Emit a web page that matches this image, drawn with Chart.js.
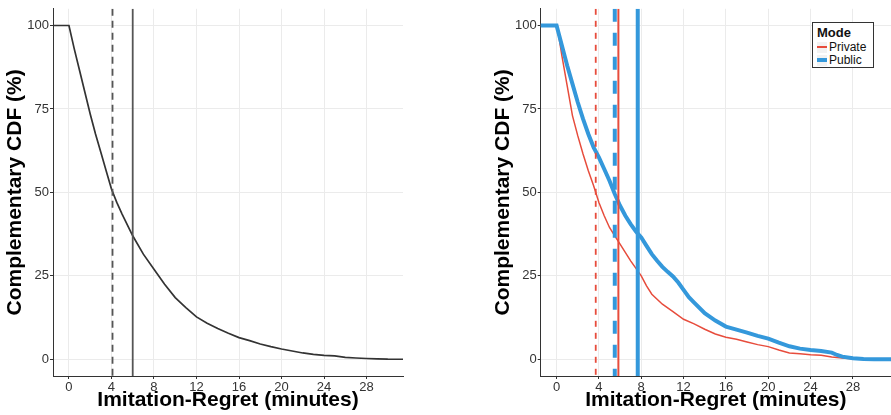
<!DOCTYPE html>
<html>
<head>
<meta charset="utf-8">
<script src="https://cdn.jsdelivr.net/npm/chart.js@4.4.0/dist/chart.umd.min.js"></script>
<style>
  body { margin: 0; background: #fff; width: 891px; height: 415px; overflow: hidden; position: relative;
         font-family: "Liberation Sans", Arial, sans-serif; }
  .panel { position: absolute; top: 0; height: 415px; }
  #leftBox { left: 0; width: 445px; }
  #rightBox { left: 445px; width: 446px; }
  #legend { position: absolute; left: 812px; top: 22px; width: 62px; height: 46px; box-sizing: border-box;
            border: 1px solid #333; background: #fff; color: #111; padding: 2px 0 0 4px; }
  #legend .title { font-weight: bold; font-size: 13px; line-height: 15px; }
  #legend .row { display: flex; align-items: center; font-size: 12px; line-height: 12px; height: 12px; margin-top: 1px; }
  #legend .key { width: 10px; height: 11px; background: #f2f2f2; position: relative; margin-right: 2px; }
  #legend .key span { position: absolute; left: 0; right: 0; top: 50%; }
</style>
</head>
<body>
<div class="panel" id="leftBox"><canvas id="leftChart" width="445" height="415"></canvas></div>
<div class="panel" id="rightBox"><canvas id="rightChart" width="446" height="415"></canvas></div>
<div id="legend">
  <div class="title">Mode</div>
  <div class="row"><div class="key"><span style="height:2px;margin-top:-1px;background:#E74C3C"></span></div>Private</div>
  <div class="row"><div class="key"><span style="height:4px;margin-top:-2px;background:#3498DB"></span></div>Public</div>
</div>
<script>
// tick labels
const xTicks = [0, 4, 8, 12, 16, 20, 24, 28];
const yTicks = [0, 25, 50, 75, 100];

// all players (left panel)
const allX = [-2, 0, 0.5, 1, 1.5, 2, 2.5, 3, 3.5, 4, 4.5, 5, 6, 7, 8, 9, 10, 11, 12, 13, 14, 15, 16, 17, 18, 19, 20, 21, 22, 23, 24, 25, 26, 27, 28, 29, 30, 32];
const allY = [100, 100, 93, 86.5, 80, 73.5, 67.5, 62, 56.5, 51, 47, 43.5, 37, 31.5, 27, 22.5, 18.5, 15.5, 12.7, 10.8, 9.2, 7.8, 6.5, 5.6, 4.6, 3.8, 3.1, 2.5, 1.9, 1.5, 1.2, 1.0, 0.6, 0.4, 0.25, 0.15, 0.05, 0];
const allMedian = 4.1;
const allMean = 6.0;

// private mode (right panel)
const privX = [-2, 0, 0.25, 0.5, 1, 1.5, 2, 2.5, 3, 3.5, 4, 4.5, 5, 5.5, 6, 7, 8, 8.5, 9, 10, 11, 12, 13, 14, 15, 16, 17, 18, 19, 20, 21, 22, 23, 24, 25, 26, 27, 28, 29, 30, 32];
const privY = [100, 100, 96, 91, 82, 73, 67, 61.5, 56.5, 52, 47, 43, 39.5, 37, 34.5, 29.5, 25, 22, 19.5, 16.5, 14.3, 12, 10.6, 9, 7.6, 6.6, 6, 5.2, 4.4, 3.8, 2.8, 1.9, 1.7, 1.4, 1.2, 0.7, 0.4, 0.2, 0.1, 0, 0];
const privMedian = 3.7;
const privMean = 5.84;

// public mode (right panel)
const pubX = [-2, 0, 0.25, 0.5, 1, 1.5, 2, 2.5, 3, 3.5, 4, 4.5, 5, 5.5, 6, 6.5, 7, 7.5, 8, 8.5, 9, 9.5, 10, 10.5, 11, 11.5, 12, 12.5, 13, 14, 15, 16, 17, 18, 19, 20, 21, 22, 23, 24, 25, 26, 26.5, 27, 28, 29, 30, 32];
const pubY = [100, 100, 97, 94, 88, 82.5, 77, 72, 67.5, 63.5, 60.5, 57, 53.5, 49.5, 46, 43, 40.5, 38.3, 36.5, 34, 31.5, 29.5, 27.7, 26.2, 24.8, 23, 20.8, 18.6, 17, 13.8, 11.6, 9.8, 8.9, 8, 7, 6.2, 5, 3.9, 3.2, 2.8, 2.5, 2, 1.3, 0.8, 0.3, 0.1, 0, 0];
const pubMedian = 5.5;
const pubMean = 7.67;

const FONT = '"Liberation Sans", Arial, sans-serif';
const toPts = (xs, ys) => xs.map((x, i) => ({ x: x, y: ys[i] }));

// vertical median / mean lines
const vlinePlugin = {
  id: 'vlines',
  afterDatasetsDraw(chart, args, opts) {
    const { ctx, chartArea } = chart;
    const x = chart.scales.x;
    ctx.save();
    ctx.beginPath();
    ctx.rect(chartArea.left, chartArea.top, chartArea.width, chartArea.height);
    ctx.clip();
    (opts.lines || []).forEach(l => {
      const px = x.getPixelForValue(l.value);
      ctx.beginPath();
      ctx.setLineDash(l.dash || []);
      ctx.strokeStyle = l.color;
      ctx.lineWidth = l.width;
      ctx.moveTo(px, chartArea.top);
      ctx.lineTo(px, chartArea.bottom);
      ctx.stroke();
    });
    ctx.restore();
  }
};

function makeOptions(padLeft, yWidth, xMax, lines) {
  return {
    responsive: false,
    animation: false,
    layout: { padding: { left: padLeft, right: 0, top: 4, bottom: 0 } },
    plugins: {
      legend: { display: false },
      tooltip: { enabled: false },
      vlines: { lines: lines }
    },
    elements: { point: { radius: 0 }, line: { tension: 0 } },
    scales: {
      x: {
        type: 'linear',
        min: -1.5,
        max: xMax,
        afterBuildTicks: s => { s.ticks = xTicks.map(v => ({ value: v })); },
        afterFit: s => { s.height = 39; },
        ticks: { autoSkip: false, maxRotation: 0, padding: 1, color: '#333', font: { family: FONT, size: 13 } },
        grid: { color: '#ebebeb', lineWidth: 1, tickColor: '#333', tickLength: 3 },
        border: { display: true, color: '#333', width: 1 },
        title: { display: true, text: 'Imitation-Regret (minutes)', color: '#000',
                 font: { family: FONT, size: 21, weight: 'bold' }, padding: { top: 0, bottom: 2 } }
      },
      y: {
        type: 'linear',
        min: -5,
        max: 105,
        afterBuildTicks: s => { s.ticks = yTicks.map(v => ({ value: v })); },
        afterFit: s => { s.width = yWidth; },
        ticks: { autoSkip: false, padding: 1, color: '#333', font: { family: FONT, size: 13 } },
        grid: { color: '#ebebeb', lineWidth: 1, tickColor: '#333', tickLength: 3 },
        border: { display: true, color: '#333', width: 1 },
        title: { display: true, text: 'Complementary CDF (%)', color: '#000',
                 font: { family: FONT, size: 21, weight: 'bold' }, padding: { top: 2.5, bottom: 0 } }
      }
    }
  };
}

new Chart(document.getElementById('leftChart'), {
  type: 'line',
  data: {
    datasets: [{
      label: 'All',
      data: toPts(allX, allY),
      borderColor: '#333333',
      borderWidth: 1.7
    }]
  },
  options: (() => {
    const o = makeOptions(0, 53, 31.43, [
      { value: allMedian, color: '#555555', width: 1.8, dash: [7, 5] },
      { value: allMean, color: '#555555', width: 1.8 }
    ]);
    o.layout.padding.right = 42;
    return o;
  })(),
  plugins: [vlinePlugin]
});

new Chart(document.getElementById('rightChart'), {
  type: 'line',
  data: {
    datasets: [{
      label: 'Private',
      data: toPts(privX, privY),
      borderColor: '#E74C3C',
      borderWidth: 1.5,
      order: 1
    }, {
      label: 'Public',
      data: toPts(pubX, pubY),
      borderColor: '#3498DB',
      borderWidth: 4,
      order: 0
    }]
  },
  options: makeOptions(43, 52.7, 31.6, [
    { value: privMedian, color: '#E74C3C', width: 1.8, dash: [6, 6] },
    { value: privMean, color: '#E74C3C', width: 2 },
    { value: pubMedian, color: '#3498DB', width: 4, dash: [13, 11] },
    { value: pubMean, color: '#3498DB', width: 4 }
  ]),
  plugins: [vlinePlugin]
});
</script>
</body>
</html>
